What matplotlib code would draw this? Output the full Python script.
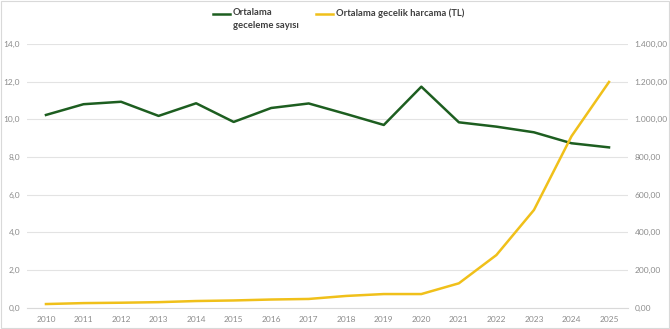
import numpy as np
import matplotlib
matplotlib.use("Agg")
import matplotlib.pyplot as plt
from matplotlib.ticker import FuncFormatter, MultipleLocator
from matplotlib.patches import Rectangle
from matplotlib.lines import Line2D

years = list(range(2010, 2026))
geceleme = [10.23, 10.80, 10.93, 10.18, 10.85, 9.86, 10.60, 10.84, 10.28, 9.70,
            11.73, 9.84, 9.61, 9.31, 8.73, 8.51]
harcama = [20, 25, 27, 30, 36, 39, 44, 47, 63, 73,
           73, 130, 280, 519, 910, 1198]
labels = ["Ortalama\ngeceleme sayısı", "Ortalama gecelik harcama (TL)"]

green = "#1d5e20"
yellow = "#f0c01a"
grey_txt = "#8c8c8c"

plt.rcParams["font.family"] = ["Lato", "DejaVu Sans"]

W, H = 670, 329
fig = plt.figure(figsize=(W / 100, H / 100), dpi=100)
ax = fig.add_axes([0.0406, 0.0644, 0.8964, 0.8022])
ax2 = ax.twinx()

x = np.arange(len(years))
ax.plot(x, geceleme, color=green, lw=1.8, zorder=3)
ax2.plot(x, harcama, color=yellow, lw=1.8, zorder=3)

ax.set_xlim(-0.5, len(years) - 0.5)
ax.set_ylim(0, 14)
ax2.set_ylim(0, 1400)
ax.yaxis.set_major_locator(MultipleLocator(2))
ax2.yaxis.set_major_locator(MultipleLocator(200))
ax.yaxis.set_major_formatter(FuncFormatter(lambda v, p: f"{v:.1f}".replace(".", ",")))
ax2.yaxis.set_major_formatter(FuncFormatter(
    lambda v, p: f"{v:,.2f}".replace(",", "X").replace(".", ",").replace("X", ".")))
ax.set_xticks(x)
ax.set_xticklabels([str(y) for y in years])

ax.grid(axis="y", color="#e3e3e3", lw=0.8)
ax.set_axisbelow(True)
for a in (ax, ax2):
    for sp in a.spines.values():
        sp.set_visible(False)
    a.tick_params(length=0, labelsize=6.0, colors=grey_txt)
ax.spines["bottom"].set_visible(True)
ax.spines["bottom"].set_color("#d9d9d9")
ax.tick_params(axis="y", pad=5)
ax2.tick_params(axis="y", pad=5)
ax.tick_params(axis="x", pad=6)

# legend, drawn by hand so the handle sits on the first text line
legend_items = [(green, labels[0], 213), (yellow, labels[1], 316)]
for col, lab, px in legend_items:
    yl = 1 - 14 / H
    fig.add_artist(Line2D([px / W, (px + 17) / W], [yl, yl], color=col, lw=1.8,
                          transform=fig.transFigure))
    fig.text((px + 20) / W, 1 - 8 / H, lab, color="#3f3f3f", fontsize=6.8,
             fontweight="bold", va="top", ha="left", linespacing=1.5)

fig.patches.append(Rectangle((0.001, 0.002), 0.997, 0.995, transform=fig.transFigure,
                             fill=False, edgecolor="#d9d9d9", lw=0.8))

fig.savefig("out.png", dpi=100)
